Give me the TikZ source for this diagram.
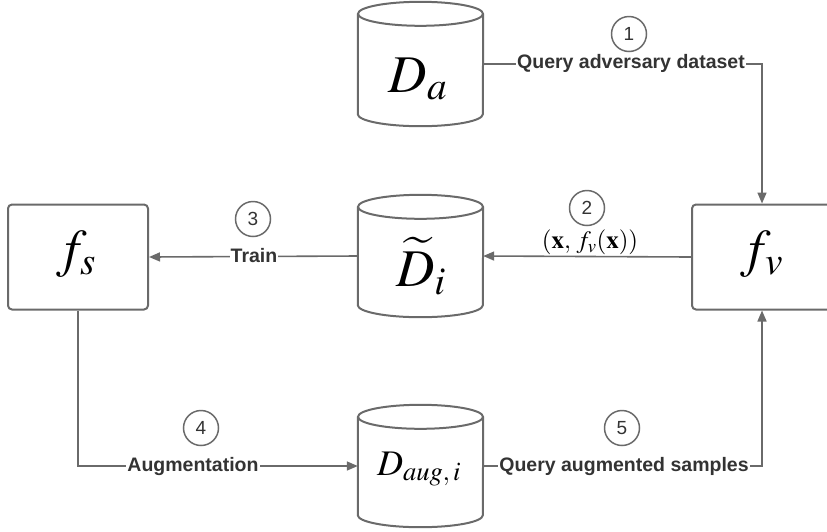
\documentclass[tikz,border=0pt]{standalone}
\usepackage{mathptmx}
\usepackage[no-math]{fontspec}
\newfontfamily\labfont{Liberation Sans}
\usetikzlibrary{arrows.meta,calc}
\definecolor{linegray}{HTML}{6A6A6A}
\definecolor{txtgray}{HTML}{333333}
\tikzset{
  conn/.style={draw=linegray, line width=1.6pt},
  arr/.style={conn, -{Triangle[length=11pt,width=9pt]}},
  box/.style={draw=linegray, line width=2pt, rounded corners=4pt,
    minimum width=140pt, minimum height=105pt, inner sep=0pt},
  dbase/.style={minimum width=125pt, minimum height=122pt, inner sep=0pt},
  dbline/.style={draw=linegray, line width=2pt},
  bigmath/.style={inner sep=0pt, font=\fontsize{53}{58}\selectfont},
  steplabel/.style={fill=white, inner sep=1pt, text=txtgray,
    font=\labfont\bfseries\fontsize{19.5}{22}\selectfont},
  num/.style={circle, draw=linegray, line width=1.5pt, minimum size=35pt,
    inner sep=0pt, text=txtgray, font=\labfont\fontsize{19}{21}\selectfont},
}
% vertical cylinder drawn around a named rectangle node
\newcommand\drawdb[1]{%
  \draw[dbline] ($(#1.north west)+(0,-12)$) -- ($(#1.south west)+(0,12)$)
    arc[start angle=180, end angle=360, x radius=62.5pt, y radius=12pt]
    -- ($(#1.north east)+(0,-12)$);
  \draw[dbline] ($(#1.north)+(0,-12)$) ellipse[x radius=62.5pt, y radius=12pt];
}
\begin{document}
\begin{tikzpicture}[x=1pt, y=1pt]
  \useasboundingbox (0,0) rectangle (827,-531);

  % models
  \node[box] (fs) at (78,-257) {};
  \node[box] (fv) at (762,-257) {};
  \node[bigmath] (fs-txt) at (76,-254) {$f_s$};
  \node[bigmath] (fv-txt) at (762,-254) {$f_v$};

  % datasets
  \node[dbase, minimum height=124pt] (Da) at (420.5,-64) {};
  \node[dbase] (Di) at (420.5,-256) {};
  \node[dbase] (Daug) at (420.5,-466) {};
  \drawdb{Da}
  \drawdb{Di}
  \drawdb{Daug}
  \node[bigmath] (Da-txt) at (418,-79) {$D_a$};
  \node[bigmath] (Di-txt) at (421,-266) {$\widetilde{D}_i$};
  \node[inner sep=0pt, font=\fontsize{36}{40}\selectfont] (Daug-txt) at (419,-469) {$D_{aug,\,i}$};

  % connectors
  \draw[arr] (Da.east) -| (fv.north);
  \draw[arr] (fv.west) -- (Di.east);
  \draw[arr] (Di.west) -- (fs.east);
  \draw[arr] (fs.south) |- (Daug.west);
  \draw[arr] (Daug.east) -| (fv.south);

  % connector labels
  \node[steplabel] (l1) at (631,-63) {Query adversary dataset};
  \node[inner sep=0pt, font=\fontsize{25}{28}\selectfont] (l2) at (590,-242) {$(\mathbf{x},\, f_v(\mathbf{x}))$};
  \node[steplabel] (l3) at (254,-256) {Train};
  \node[steplabel] (l4) at (193,-466) {Augmentation};
  \node[steplabel] (l5) at (624,-466) {Query augmented samples};

  % step numbers
  \node[num] (n1) at (629,-34) {1};
  \node[num] (n2) at (587,-208) {2};
  \node[num] (n3) at (253,-219) {3};
  \node[num] (n4) at (201,-428) {4};
  \node[num] (n5) at (622,-428) {5};
\end{tikzpicture}
\end{document}
